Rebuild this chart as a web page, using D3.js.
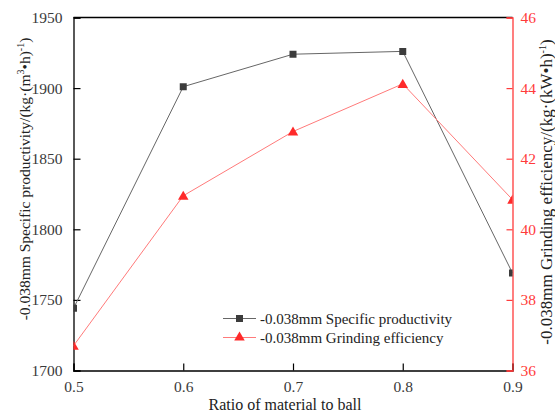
<!DOCTYPE html>
<html>
<head>
<meta charset="utf-8">
<script src="https://cdn.jsdelivr.net/npm/d3@7"></script>
<style>
  html, body { margin: 0; padding: 0; background: #fff; }
  svg { display: block; }
  svg text { font-family: "Liberation Serif", "Times New Roman", serif; }
</style>
</head>
<body>
<svg id="chart" width="555" height="412"></svg>
<script>
// Ratio of material to ball
const ratios = [0.5, 0.6, 0.7, 0.8, 0.9];
// -0.038mm specific productivity, kg/(m3·h)
const productivity = [1744, 1901, 1924, 1926, 1769];
// -0.038mm grinding efficiency, kg/(kW·h)
const efficiency = [36.7, 40.95, 42.77, 44.12, 40.84];

const xTicks = [0.5, 0.6, 0.7, 0.8, 0.9];
const leftTicks = [1700, 1750, 1800, 1850, 1900, 1950];
const rightTicks = [36, 38, 40, 42, 44, 46];

const m = { left: 73.5, right: 512.5, top: 17.5, bottom: 370.5 };
const RED = "#ff3b3b";
const SERIF = "'Liberation Serif', 'Times New Roman', serif";

const svg = d3.select("#chart");

const x = d3.scaleLinear().domain([0.5, 0.9]).range([m.left, m.right]);
const yL = d3.scaleLinear().domain([1700, 1950]).range([m.bottom, m.top]);
const yR = d3.scaleLinear().domain([36, 46]).range([m.bottom, m.top]);

svg.append("defs").append("clipPath").attr("id", "plot-clip")
  .append("rect")
  .attr("x", m.left).attr("y", m.top)
  .attr("width", m.right - m.left).attr("height", m.bottom - m.top);

// Top frame line
svg.append("line")
  .attr("x1", m.left).attr("x2", m.right)
  .attr("y1", m.top).attr("y2", m.top)
  .attr("stroke", "#000").attr("stroke-width", 1.3);

function styleAxis(g, color, textColor) {
  g.attr("font-family", SERIF).attr("font-size", 15.5);
  g.select(".domain").attr("stroke", color).attr("stroke-width", 1.3);
  g.selectAll(".tick line").attr("stroke", color).attr("stroke-width", 1.2);
  g.selectAll(".tick text").attr("fill", textColor);
}

// Bottom axis with inward ticks
const gx = svg.append("g").attr("transform", `translate(0,${m.bottom})`)
  .call(d3.axisBottom(x).tickValues(xTicks).tickSize(-7).tickPadding(10).tickFormat(d3.format(".1f")));
styleAxis(gx, "#000", "#3a3a3a");

// Left axis
const gl = svg.append("g").attr("transform", `translate(${m.left},0)`)
  .call(d3.axisLeft(yL).tickValues(leftTicks).tickSize(-7).tickPadding(11).tickFormat(d3.format("d")));
styleAxis(gl, "#000", "#3a3a3a");

// Right axis in red
const gr = svg.append("g").attr("transform", `translate(${m.right},0)`)
  .call(d3.axisRight(yR).tickValues(rightTicks).tickSize(-6).tickPadding(8).tickFormat(d3.format("d")));
styleAxis(gr, RED, RED);

// Series
const plot = svg.append("g").attr("clip-path", "url(#plot-clip)");

const lineL = d3.line().x((d, i) => x(ratios[i])).y(d => yL(d));
const lineR = d3.line().x((d, i) => x(ratios[i])).y(d => yR(d));

plot.append("path").datum(productivity)
  .attr("d", lineL).attr("fill", "none")
  .attr("stroke", "#666").attr("stroke-width", 1);

plot.append("path").datum(efficiency)
  .attr("d", lineR).attr("fill", "none")
  .attr("stroke", "#ff7a7a").attr("stroke-width", 1);

const sq = d3.symbol().type(d3.symbolSquare).size(49);
const tri = d3.symbol().type(d3.symbolTriangle).size(48);

plot.selectAll(".pt-l").data(productivity).join("path")
  .attr("class", "pt-l")
  .attr("transform", (d, i) => `translate(${x(ratios[i])},${yL(d)})`)
  .attr("d", sq).attr("fill", "#3c3c3c");

plot.selectAll(".pt-r").data(efficiency).join("path")
  .attr("class", "pt-r")
  .attr("transform", (d, i) => `translate(${x(ratios[i])},${yR(d) + 1})`)
  .attr("d", tri).attr("fill", "#ff2a2a");

// Legend
const legend = svg.append("g");
const legendItems = [
  { label: "-0.038mm Specific productivity", stroke: "#666", fill: "#3c3c3c", sym: sq, y: 318.5 },
  { label: "-0.038mm Grinding efficiency", stroke: "#ff7a7a", fill: "#ff2a2a", sym: tri, y: 337.5 }
];
legendItems.forEach(it => {
  legend.append("line")
    .attr("x1", 223).attr("x2", 256).attr("y1", it.y).attr("y2", it.y)
    .attr("stroke", it.stroke).attr("stroke-width", 1);
  legend.append("path")
    .attr("transform", `translate(239.5,${it.y})`)
    .attr("d", it.sym).attr("fill", it.fill);
  legend.append("text")
    .attr("x", 260).attr("y", it.y + 5)
    .attr("font-size", 15).attr("fill", "#222")
    .text(it.label);
});

// Axis titles
svg.append("text")
  .attr("x", 285).attr("y", 410)
  .attr("text-anchor", "middle").attr("font-size", 16).attr("fill", "#222")
  .text("Ratio of material to ball");

function rotatedTitle(cx, cy, size, main, unitInner, color) {
  const t = svg.append("text")
    .attr("transform", `translate(${cx},${cy}) rotate(-90)`)
    .attr("text-anchor", "middle")
    .attr("font-size", size).attr("fill", color);
  t.append("tspan").text(main + "/(kg·(");
  unitInner(t);
  t.append("tspan").text(")");
  t.append("tspan").attr("dy", -6).attr("font-size", 10).text("-1");
  t.append("tspan").attr("dy", 6).text(")");
}

rotatedTitle(30, 179, 15.5, "-0.038mm Specific productivity", t => {
  t.append("tspan").text("m");
  t.append("tspan").attr("dy", -6).attr("font-size", 10).text("3");
  t.append("tspan").attr("dy", 6).text("•h");
}, "#222");

rotatedTitle(552, 192, 17, "-0.038mm Grinding efficiency", t => {
  t.append("tspan").text("kW•h");
}, "#222");
</script>
</body>
</html>
